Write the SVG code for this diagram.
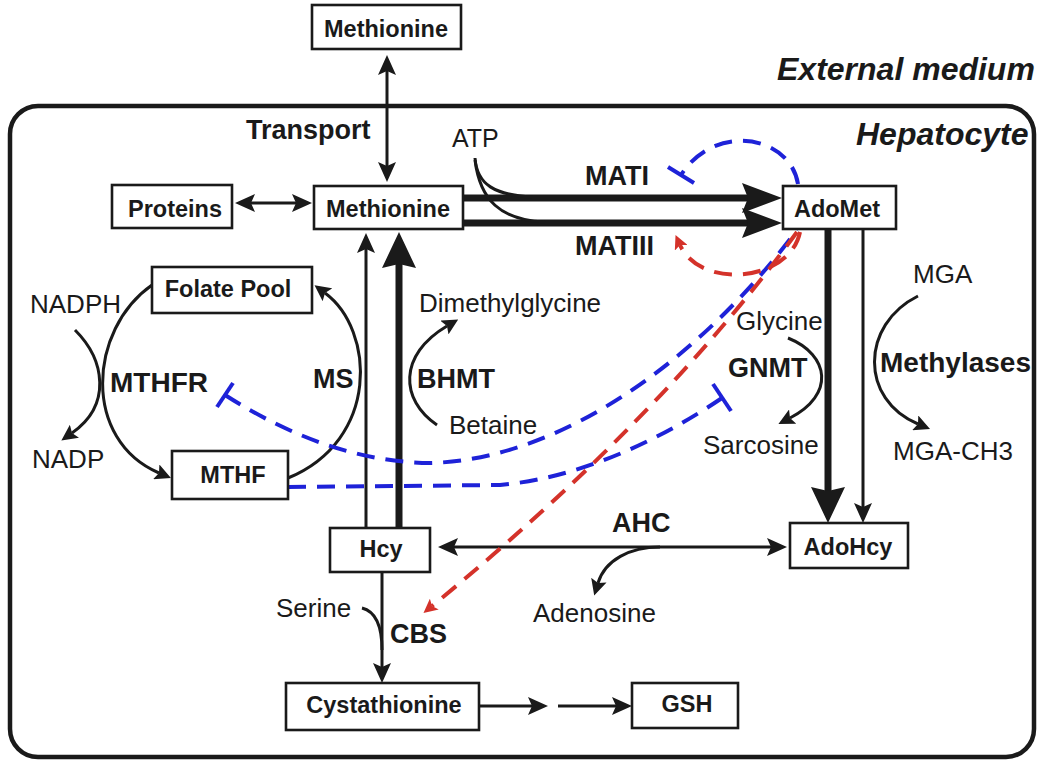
<svg xmlns="http://www.w3.org/2000/svg" width="1050" height="773" viewBox="0 0 1050 773">
<style>
  text { font-family: "Liberation Sans", Arial, sans-serif; fill: #1a1a1a; }
  .box { fill: #ffffff; stroke: #1a1a1a; stroke-width: 2.6; }
  .bl { font-weight: bold; font-size: 23.5px; text-anchor: middle; }
  .enz { font-weight: bold; font-size: 27px; }
  .lab { font-size: 26px; }
  .hdr { font-weight: bold; font-style: italic; font-size: 32px; }
  .ln { fill: none; stroke: #1a1a1a; stroke-width: 3; }
  .thick { fill: none; stroke: #1a1a1a; stroke-width: 7; }
  .blue { fill: none; stroke: #1e22d8; stroke-width: 4; stroke-dasharray: 18 11; }
  .red { fill: none; stroke: #d4322a; stroke-width: 4; stroke-dasharray: 18 11; }
  .tb { stroke: #1e22d8; stroke-width: 4; fill: none; }
</style>
<defs>
  <marker id="a" viewBox="0 0 20 18" refX="4" refY="9" markerWidth="20" markerHeight="18" markerUnits="userSpaceOnUse" orient="auto-start-reverse">
    <path d="M0,0 L20,9 L0,18 L4,9 Z" fill="#1a1a1a"/>
  </marker>
  <marker id="c" viewBox="0 0 16 16" refX="3" refY="8" markerWidth="16" markerHeight="16" markerUnits="userSpaceOnUse" orient="auto">
    <path d="M0,0 L16,8 L0,16 L3,8 Z" fill="#1a1a1a"/>
  </marker>
  <marker id="big" viewBox="0 0 36 34" refX="4" refY="17" markerWidth="36" markerHeight="34" markerUnits="userSpaceOnUse" orient="auto">
    <path d="M0,0 L36,17 L0,34 L4,17 Z" fill="#1a1a1a"/>
  </marker>
  <marker id="mat" viewBox="0 0 40 30" refX="6" refY="15" markerWidth="40" markerHeight="30" markerUnits="userSpaceOnUse" orient="auto">
    <path d="M0,0 L40,15 L0,30 L6,15 Z" fill="#1a1a1a"/>
  </marker>
  <marker id="r" viewBox="0 0 14 14" refX="3" refY="7" markerWidth="14" markerHeight="14" markerUnits="userSpaceOnUse" orient="auto">
    <path d="M0,0 L14,7 L0,14 L3,7 Z" fill="#d4322a"/>
  </marker>
</defs>

<!-- compartment -->
<g id="hepatocyte">
  <rect x="10" y="106" width="1024" height="651" rx="28" ry="28" fill="none" stroke="#1a1a1a" stroke-width="4.5"/>
  <text class="hdr" x="777" y="80">External medium</text>
  <text class="hdr" x="856" y="145">Hepatocyte</text>
</g>

<!-- connectors -->
<g id="connectors">
  <!-- transport -->
  <path class="ln" d="M387,71 L387,166" marker-start="url(#a)" marker-end="url(#a)"/>
  <!-- proteins -->
  <path class="ln" d="M251,203 L296,203" marker-start="url(#a)" marker-end="url(#a)"/>
  <!-- MAT lines -->
  <path class="thick" d="M463,198 L748,198" marker-end="url(#mat)"/>
  <path class="thick" d="M463,223 L748,223" marker-end="url(#mat)"/>
  <!-- ATP -->
  <path class="ln" d="M475,158 C477,185 495,195 532,197"/>
  <path class="ln" d="M475,160 C480,200 500,220 545,222"/>
  <!-- Hcy to Methionine -->
  <path class="ln" d="M366,528 L366,249" marker-end="url(#a)"/>
  <path class="thick" d="M399,528 L399,264" marker-end="url(#big)"/>
  <!-- MTHFR -->
  <path class="ln" d="M152,285 C88,330 82,440 159,473" marker-end="url(#c)"/>
  <path class="ln" d="M75,330 C105,360 112,405 72,433" marker-end="url(#c)"/>
  <!-- MS -->
  <path class="ln" d="M288,478 C380,440 375,330 325,293" marker-end="url(#c)"/>
  <!-- BHMT -->
  <path class="ln" d="M437,425 C400,400 398,355 447,326" marker-end="url(#c)"/>
  <!-- AdoMet to AdoHcy -->
  <path class="thick" d="M828,229 L828,491" marker-end="url(#big)"/>
  <path class="ln" d="M863,229 L863,507" marker-end="url(#a)"/>
  <!-- GNMT -->
  <path class="ln" d="M788,338 C830,355 835,395 790,418" marker-end="url(#c)"/>
  <!-- Methylases -->
  <path class="ln" d="M918,296 C860,325 860,400 918,424" marker-end="url(#c)"/>
  <!-- AHC -->
  <path class="ln" d="M454,547 L771,547" marker-start="url(#a)" marker-end="url(#a)"/>
  <path class="ln" d="M660,547 C630,547 605,560 598,583" marker-end="url(#c)"/>
  <!-- CBS -->
  <path class="ln" d="M382,572 L382,667" marker-end="url(#a)"/>
  <path class="ln" d="M362,608 C374,611 382,622 382,650"/>
  <!-- to GSH -->
  <path class="ln" d="M480,706 L532,706" marker-end="url(#a)"/>
  <path class="ln" d="M558,706 L616,706" marker-end="url(#a)"/>

  <!-- regulation: blue inhibition -->
  <path class="blue" d="M798,184 C790,135 715,122 681,175"/>
  <line class="tb" x1="668" y1="167" x2="694" y2="183"/>
  <path class="blue" d="M225,395 Q330,462 430,463 C560,460 700,360 797,230"/>
  <line class="tb" x1="217" y1="407" x2="233" y2="383"/>
  <path class="blue" d="M288,487 L500,485 C580,478 660,440 722,398"/>
  <line class="tb" x1="713" y1="384" x2="731" y2="411"/>
  <!-- regulation: red activation -->
  <path class="red" d="M800,232 C790,282 700,290 680,245" marker-end="url(#r)"/>
  <path class="red" d="M797,232 Q660,420 432,606" marker-end="url(#r)"/>
</g>

<!-- nodes -->
<g id="methionine-ext"><rect class="box" x="312" y="5" width="149" height="44"/><text class="bl" x="386" y="37">Methionine</text></g>
<g id="proteins"><rect class="box" x="112" y="185" width="120" height="43"/><text class="bl" x="175" y="217">Proteins</text></g>
<g id="methionine"><rect class="box" x="314" y="186" width="149" height="43"/><text class="bl" x="388" y="217">Methionine</text></g>
<g id="adomet"><rect class="box" x="783" y="186" width="113" height="43"/><text class="bl" x="837" y="217">AdoMet</text></g>
<g id="folate-pool"><rect class="box" x="152" y="267" width="160" height="46"/><text class="bl" x="228" y="297">Folate Pool</text></g>
<g id="mthf"><rect class="box" x="172" y="451" width="116" height="48"/><text class="bl" x="233" y="483">MTHF</text></g>
<g id="hcy"><rect class="box" x="330" y="528" width="100" height="44"/><text class="bl" x="381" y="557">Hcy</text></g>
<g id="adohcy"><rect class="box" x="790" y="523" width="118" height="45"/><text class="bl" x="848" y="555">AdoHcy</text></g>
<g id="cystathionine"><rect class="box" x="286" y="683" width="193" height="47"/><text class="bl" x="384" y="713">Cystathionine</text></g>
<g id="gsh"><rect class="box" x="632" y="683" width="106" height="45"/><text class="bl" x="687" y="712">GSH</text></g>

<!-- labels -->
<g id="labels">
  <text class="enz" x="246" y="139">Transport</text>
  <text class="lab" x="452" y="147" style="font-size:25px">ATP</text>
  <text class="enz" x="585" y="185">MATI</text>
  <text class="enz" x="575" y="255">MATIII</text>
  <text class="lab" x="30" y="313">NADPH</text>
  <text class="enz" x="110" y="392" style="font-size:28px">MTHFR</text>
  <text class="lab" x="32" y="468">NADP</text>
  <text class="enz" x="313" y="388">MS</text>
  <text class="enz" x="417" y="388">BHMT</text>
  <text class="lab" x="419" y="312">Dimethylglycine</text>
  <text class="lab" x="449" y="434">Betaine</text>
  <text class="lab" x="736" y="330">Glycine</text>
  <text class="enz" x="728" y="377">GNMT</text>
  <text class="lab" x="703" y="454">Sarcosine</text>
  <text class="lab" x="913" y="283">MGA</text>
  <text class="enz" x="880" y="372" style="font-size:28px">Methylases</text>
  <text class="lab" x="893" y="460">MGA-CH3</text>
  <text class="enz" x="612" y="532">AHC</text>
  <text class="lab" x="533" y="622">Adenosine</text>
  <text class="lab" x="276" y="617">Serine</text>
  <text class="enz" x="390" y="643">CBS</text>
</g>
</svg>
